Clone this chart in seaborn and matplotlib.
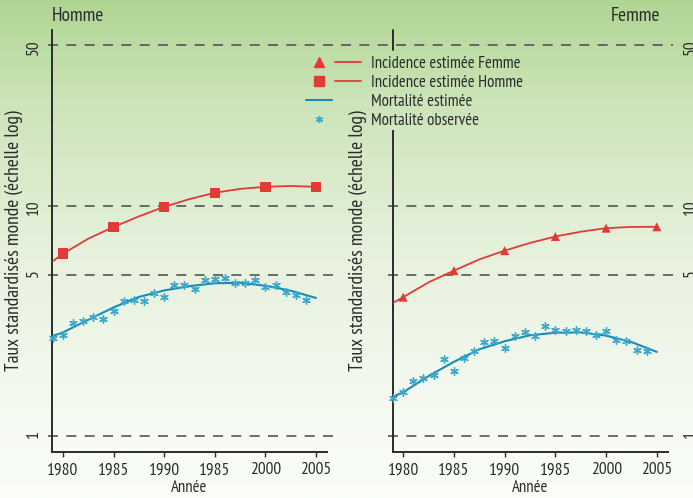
import numpy as np
import matplotlib
matplotlib.use("Agg")
import matplotlib.pyplot as plt
import seaborn as sns
from matplotlib.lines import Line2D
from matplotlib.legend_handler import HandlerTuple
from matplotlib.colors import LinearSegmentedColormap

# ---- données ----
obs_years = list(range(1979, 2005))
mort_obs_homme = [2.66, 2.76, 3.11, 3.17, 3.30, 3.23, 3.50, 3.87, 3.88, 3.87,
                  4.19, 4.03, 4.54, 4.54, 4.36, 4.77, 4.82, 4.86, 4.63, 4.63,
                  4.77, 4.45, 4.54, 4.21, 4.08, 3.91]
mort_obs_femme = [1.46, 1.55, 1.74, 1.79, 1.85, 2.17, 1.91, 2.19, 2.34, 2.55,
                  2.58, 2.42, 2.73, 2.84, 2.73, 3.02, 2.90, 2.85, 2.88, 2.85,
                  2.76, 2.86, 2.62, 2.58, 2.37, 2.33]

curve_years = [1979, 1980, 1982.5, 1985, 1987.5, 1990, 1992.5, 1995, 1997.5, 2000, 2002.5, 2005]
mort_est_homme = [2.72, 2.82, 3.20, 3.62, 4.02, 4.29, 4.48, 4.61, 4.63, 4.50, 4.28, 3.98]
mort_est_femme = [1.48, 1.55, 1.82, 2.10, 2.38, 2.58, 2.74, 2.81, 2.82, 2.73, 2.56, 2.32]
inc_est_homme = [5.75, 6.2, 7.2, 8.1, 9.0, 9.9, 10.7, 11.4, 11.85, 12.1, 12.2, 12.1]
inc_est_femme = [3.79, 4.01, 4.65, 5.23, 5.85, 6.39, 6.9, 7.36, 7.72, 8.0, 8.1, 8.11]

marker_years = [1980, 1985, 1990, 1995, 2000, 2005]
inc_homme = [6.2, 8.1, 9.9, 11.4, 12.1, 12.1]
inc_femme = [4.01, 5.23, 6.39, 7.36, 8.0, 8.11]

xtick_pos = [1980, 1985, 1990, 1995, 2000, 2005]
xtick_labels = ["1980", "1985", "1990", "1985", "2000", "2005"]
ytick_pos = [1, 5, 10, 50]
ytick_labels = ["1", "5", "10", "50"]

RED = "#e23a36"
TEAL = "#178db3"
STAR = "#3aa8cc"
DARK = "#2b2b2b"

sns.set_theme(style="white")
plt.rcParams["font.family"] = ["PT Sans Narrow", "Open Sans Condensed", "DejaVu Sans"]

fig = plt.figure(figsize=(6.93, 4.98), dpi=100)

# fond dégradé vert -> blanc
bg = fig.add_axes([0, 0, 1, 1], zorder=-10)
cmap = LinearSegmentedColormap.from_list(
    "bg", [(0.0, "#afd592"), (0.2, "#cbe4b8"), (0.5, "#e6f1dc"),
           (0.8, "#f4f9f0"), (1.0, "#fafdf8")])
bg.imshow(np.linspace(0, 1, 256).reshape(-1, 1), aspect="auto", cmap=cmap,
          extent=[0, 1, 1, 0])
bg.axis("off")

ylo, yhi = 0.852, 58.1
W, H = 693, 498
ax_l = fig.add_axes([52 / W, 1 - 452 / H, 275 / W, 422 / H])
ax_r = fig.add_axes([393 / W, 1 - 452 / H, 275 / W, 422 / H])
ax_l.set_facecolor("none")
ax_r.set_facecolor("none")

panels = [
    (ax_l, mort_obs_homme, mort_est_homme, inc_est_homme, inc_homme, "s", 7.5, (1978.91, 2006.09), 2),
    (ax_r, mort_obs_femme, mort_est_femme, inc_est_femme, inc_femme, "^", 6.5, (1979.0, 2006.1), 19),
]

for ax, obs, est, inc_curve, inc_pts, mk, ms, xl, lpad in panels:
    ax.set_yscale("log")
    ax.set_xlim(*xl)
    ax.set_ylim(ylo, yhi)
    sns.lineplot(x=curve_years, y=inc_curve, ax=ax, color=RED, lw=1.3, zorder=3)
    sns.scatterplot(x=marker_years, y=inc_pts, ax=ax, marker=mk, color=RED,
                    s=ms ** 2, edgecolor="none", zorder=4, clip_on=False)
    sns.lineplot(x=curve_years, y=est, ax=ax, color=TEAL, lw=1.5, zorder=3)
    sns.scatterplot(x=obs_years, y=obs, ax=ax, marker=(6, 2, 0), color=STAR,
                    s=30, linewidth=1.0, zorder=4, clip_on=False)
    ax.set_yticks(ytick_pos)
    ax.set_yticklabels(ytick_labels)
    ax.minorticks_off()
    ax.set_xticks(xtick_pos)
    ax.set_xticklabels(xtick_labels)
    ax.tick_params(axis="x", length=3.5, width=1, color=DARK, labelsize=12.5,
                   labelcolor=DARK, pad=4, bottom=True)
    ax.tick_params(axis="y", length=0, labelsize=12.5, labelcolor=DARK,
                   labelrotation=90)
    for side in ["top", "right"]:
        ax.spines[side].set_visible(False)
    for side in ["left", "bottom"]:
        ax.spines[side].set_color(DARK)
        ax.spines[side].set_linewidth(1.4)
    ax.set_xlabel("Année", fontsize=12, color=DARK, labelpad=1)
    ax.set_ylabel("Taux standardisés monde (échelle log)", fontsize=14,
                  color=DARK, labelpad=lpad)

# lignes pointillées de référence
for v in ytick_pos:
    ax_l.axhline(v, xmin=-0.015, xmax=1.022, color="#555555", lw=1.2,
                 dashes=(6, 5), clip_on=False, zorder=1)
    start = -0.19 if v == 50 else -0.018
    ax_r.axhline(v, xmin=start, xmax=1.018, color="#555555", lw=1.2,
                 dashes=(6, 5), clip_on=False, zorder=1)

ax_l.tick_params(axis="y", pad=7)
ax_r.yaxis.tick_right()
ax_r.spines["right"].set_visible(False)
ax_r.tick_params(axis="y", length=0, pad=11, labelrotation=90)

# axe gauche du panneau Femme interrompu par la légende
ax_r.spines["left"].set_bounds(ylo, 21.1)
frac = (np.log(47.8) - np.log(ylo)) / (np.log(yhi) - np.log(ylo))
ax_r.axvline(ax_r.get_xlim()[0], ymin=frac, ymax=1, color=DARK, lw=1.4,
             clip_on=False)

ax_l.text(0.0, 1.012, "Homme", transform=ax_l.transAxes, ha="left",
          va="bottom", fontsize=14, color=DARK)
ax_r.text(0.97, 1.012, "Femme", transform=ax_r.transAxes, ha="right",
          va="bottom", fontsize=14, color=DARK)

# légende
blank = Line2D([], [], linestyle="none")
h_tri = Line2D([], [], marker="^", color=RED, linestyle="none", markersize=6.5)
h_sq = Line2D([], [], marker="s", color=RED, linestyle="none", markersize=7)
h_red = Line2D([], [], color=RED, lw=1.3)
h_teal = Line2D([], [], color=TEAL, lw=1.5)
h_star = Line2D([], [], marker=(6, 2, 0), color=STAR, linestyle="none",
                markersize=5, markeredgewidth=1)
handles = [(h_tri, h_red), (h_sq, h_red), (h_teal, blank), (h_star, blank)]
labels = ["Incidence estimée Femme", "Incidence estimée Homme",
          "Mortalité estimée", "Mortalité observée"]
fig.legend(handles, labels, handler_map={tuple: HandlerTuple(ndivide=None, pad=0.2)},
           loc="upper left", bbox_to_anchor=(306 / W, 1 - 56 / H), frameon=False,
           fontsize=12, handlelength=3.3, handletextpad=0.6, labelspacing=0.18,
           borderpad=0, borderaxespad=0, labelcolor=DARK)

fig.savefig("out.png", dpi=100)
